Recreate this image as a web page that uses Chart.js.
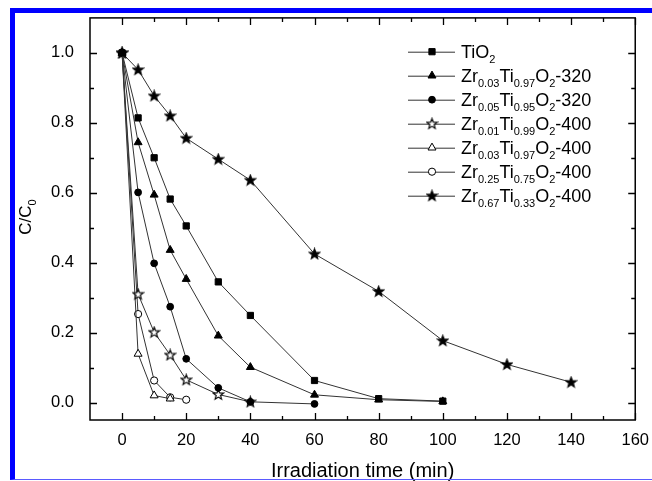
<!DOCTYPE html>
<html>
<head>
<meta charset="utf-8">
<script src="https://cdn.jsdelivr.net/npm/chart.js@4.4.1/dist/chart.umd.min.js"></script>
<style>
  html, body { margin: 0; padding: 0; background: #fff; }
  #wrap { position: relative; width: 652px; height: 481px; }
  #moldura {
    position: absolute; left: 10px; top: 8px; right: 0; bottom: 1px;
    border-top: 5px solid #0000ff; border-left: 5px solid #0000ff; border-bottom: 1px solid #5a5aff;
    pointer-events: none;
  }
</style>
</head>
<body>
<div id="wrap">
  <canvas id="grafico" width="652" height="481"></canvas>
  <div id="moldura"></div>
</div>
<script>
// tempos (min) e C/C0 de cada amostra
const tempoTiO2 = [0, 5, 10, 15, 20, 30, 40, 60, 80, 100];
const cTiO2 = [1.0, 0.814, 0.70, 0.582, 0.505, 0.345, 0.249, 0.063, 0.011, 0.004];

const tempoZr03_320 = [0, 5, 10, 15, 20, 30, 40, 60, 80, 100];
const cZr03_320 = [1.0, 0.744, 0.594, 0.436, 0.353, 0.191, 0.101, 0.022, 0.008, 0.003];

const tempoZr05_320 = [0, 5, 10, 15, 20, 30, 40, 60];
const cZr05_320 = [1.0, 0.601, 0.398, 0.274, 0.125, 0.042, 0.002, -0.004];

const tempoZr01_400 = [0, 5, 10, 15, 20, 30, 40];
const cZr01_400 = [1.0, 0.31, 0.201, 0.136, 0.065, 0.023, 0.002];

const tempoZr03_400 = [0, 5, 10, 15];
const cZr03_400 = [1.0, 0.139, 0.02, 0.011];

const tempoZr25_400 = [0, 5, 10, 15, 20];
const cZr25_400 = [1.0, 0.253, 0.063, 0.015, 0.008];

const tempoZr67_400 = [0, 5, 10, 15, 20, 30, 40, 60, 80, 100, 120, 140];
const cZr67_400 = [1.0, 0.952, 0.877, 0.82, 0.756, 0.696, 0.636, 0.425, 0.318, 0.177, 0.109, 0.058];

const rotulos = [
  "TiO_{2}",
  "Zr_{0.03}Ti_{0.97}O_{2}-320",
  "Zr_{0.05}Ti_{0.95}O_{2}-320",
  "Zr_{0.01}Ti_{0.99}O_{2}-400",
  "Zr_{0.03}Ti_{0.97}O_{2}-400",
  "Zr_{0.25}Ti_{0.75}O_{2}-400",
  "Zr_{0.67}Ti_{0.33}O_{2}-400"
];

const xTicks = [0, 20, 40, 60, 80, 100, 120, 140, 160];
const xMinor = [10, 30, 50, 70, 90, 110, 130, 150];
const yTicks = [0.0, 0.2, 0.4, 0.6, 0.8, 1.0];
const yMinor = [0.1, 0.3, 0.5, 0.7, 0.9];

const FONTE = '"Liberation Sans", Arial, sans-serif';

function criarEstrela(preenchida) {
  const c = document.createElement("canvas");
  c.width = 13;
  c.height = 13;
  const g = c.getContext("2d");
  g.beginPath();
  for (let i = 0; i < 10; i++) {
    const r = i % 2 === 0 ? 5.4 : 2.3;
    const ang = -Math.PI / 2 + i * Math.PI / 5;
    const px = 6.5 + Math.cos(ang) * r;
    const py = 6.8 + Math.sin(ang) * r;
    if (i === 0) g.moveTo(px, py); else g.lineTo(px, py);
  }
  g.closePath();
  g.fillStyle = preenchida ? "#000" : "#fff";
  g.fill();
  g.strokeStyle = "#000";
  g.lineWidth = 1.2;
  g.stroke();
  return c;
}

const estrelaCheia = criarEstrela(true);
const estrelaVazia = criarEstrela(false);

const series = [
  { t: tempoTiO2, c: cTiO2, estilo: "rect", raio: 4.4, fundo: "#000" },
  { t: tempoZr03_320, c: cZr03_320, estilo: "triangle", raio: 4.6, fundo: "#000" },
  { t: tempoZr05_320, c: cZr05_320, estilo: "circle", raio: 3.4, fundo: "#000" },
  { t: tempoZr01_400, c: cZr01_400, estilo: estrelaVazia, raio: 5, fundo: "#fff" },
  { t: tempoZr03_400, c: cZr03_400, estilo: "triangle", raio: 4.6, fundo: "#fff" },
  { t: tempoZr25_400, c: cZr25_400, estilo: "circle", raio: 3.6, fundo: "#fff" },
  { t: tempoZr67_400, c: cZr67_400, estilo: estrelaCheia, raio: 5, fundo: "#000" }
];

const datasets = series.map((s, i) => ({
  label: rotulos[i],
  data: s.t.map((t, k) => ({ x: t, y: s.c[k] })),
  borderColor: "#333",
  borderWidth: 1,
  tension: 0,
  fill: false,
  pointStyle: s.estilo,
  pointRadius: s.raio,
  pointBackgroundColor: s.fundo,
  pointBorderColor: "#000",
  pointBorderWidth: 1
}));

function partesTexto(str) {
  const partes = [];
  const re = /_\{([^}]*)\}/g;
  let ultimo = 0;
  let m;
  while ((m = re.exec(str))) {
    if (m.index > ultimo) partes.push({ t: str.slice(ultimo, m.index), sub: false });
    partes.push({ t: m[1], sub: true });
    ultimo = re.lastIndex;
  }
  if (ultimo < str.length) partes.push({ t: str.slice(ultimo), sub: false });
  return partes;
}

function larguraTexto(ctx, str, tam, tamSub) {
  let w = 0;
  partesTexto(str).forEach(p => {
    ctx.font = (p.sub ? tamSub : tam) + "px " + FONTE;
    w += ctx.measureText(p.t).width;
  });
  return w;
}

function desenharTexto(ctx, str, x, y, tam, tamSub, desce) {
  ctx.textAlign = "left";
  ctx.textBaseline = "alphabetic";
  partesTexto(str).forEach(p => {
    ctx.font = (p.sub ? tamSub : tam) + "px " + FONTE;
    ctx.fillText(p.t, x, p.sub ? y + desce : y);
    x += ctx.measureText(p.t).width;
  });
}

function desenharMarcador(ctx, s, x, y) {
  if (typeof s.estilo !== "string") {
    ctx.drawImage(s.estilo, x - s.estilo.width / 2, y - s.estilo.height / 2);
    return;
  }
  const r = s.raio;
  ctx.beginPath();
  if (s.estilo === "rect") {
    const h = r * Math.SQRT1_2;
    ctx.rect(x - h, y - h, 2 * h, 2 * h);
  } else if (s.estilo === "circle") {
    ctx.arc(x, y, r, 0, Math.PI * 2);
  } else {
    let ang = 0;
    for (let i = 0; i < 3; i++) {
      const px = x + Math.sin(ang) * r;
      const py = y - Math.cos(ang) * r;
      if (i === 0) ctx.moveTo(px, py); else ctx.lineTo(px, py);
      ang += Math.PI * 2 / 3;
    }
    ctx.closePath();
  }
  ctx.fillStyle = s.fundo;
  ctx.fill();
  ctx.strokeStyle = "#000";
  ctx.lineWidth = 1;
  ctx.stroke();
}

// moldura do grafico com marcas para dentro nos quatro lados
const molduraEixos = {
  id: "molduraEixos",
  afterDatasetsDraw(chart) {
    const { ctx, chartArea: a, scales } = chart;
    const x = scales.x;
    const y = scales.y;
    ctx.save();
    ctx.strokeStyle = "#000";
    ctx.lineWidth = 1.5;
    ctx.strokeRect(a.left, a.top, a.right - a.left, a.bottom - a.top);
    ctx.lineWidth = 1.3;
    ctx.beginPath();
    const marcaX = (v, len) => {
      const px = Math.round(x.getPixelForValue(v)) + 0.5;
      ctx.moveTo(px, a.bottom); ctx.lineTo(px, a.bottom - len);
      ctx.moveTo(px, a.top); ctx.lineTo(px, a.top + len);
    };
    const marcaY = (v, len) => {
      const py = Math.round(y.getPixelForValue(v)) + 0.5;
      ctx.moveTo(a.left, py); ctx.lineTo(a.left + len, py);
      ctx.moveTo(a.right, py); ctx.lineTo(a.right - len, py);
    };
    xTicks.forEach(v => marcaX(v, 7));
    xMinor.forEach(v => marcaX(v, 4));
    yTicks.forEach(v => marcaY(v, 7));
    yMinor.forEach(v => marcaY(v, 4));
    ctx.stroke();
    ctx.restore();
  }
};

const legendaQuadro = {
  id: "legendaQuadro",
  afterDraw(chart) {
    const ctx = chart.ctx;
    ctx.save();
    series.forEach((s, i) => {
      const yc = 51.7 + i * 24;
      ctx.strokeStyle = "#333";
      ctx.lineWidth = 1;
      ctx.beginPath();
      ctx.moveTo(408, yc + 0.5);
      ctx.lineTo(455, yc + 0.5);
      ctx.stroke();
      desenharMarcador(ctx, s, 432, yc);
      ctx.fillStyle = "#000";
      desenharTexto(ctx, rotulos[i], 461, yc + 6.5, 18, 11, 5);
    });
    ctx.restore();
  }
};

const tituloY = {
  id: "tituloY",
  afterDraw(chart) {
    const ctx = chart.ctx;
    const texto = "C/C_{0}";
    ctx.save();
    const w = larguraTexto(ctx, texto, 17, 11);
    ctx.translate(30.5, 217);
    ctx.rotate(-Math.PI / 2);
    ctx.fillStyle = "#000";
    desenharTexto(ctx, texto, -w / 2, 0, 17, 11, 5);
    ctx.restore();
  }
};

new Chart(document.getElementById("grafico"), {
  type: "line",
  data: { datasets: datasets },
  options: {
    responsive: false,
    animation: false,
    layout: { padding: { top: 17, right: 15, left: 0, bottom: 0 } },
    plugins: {
      legend: { display: false },
      tooltip: { enabled: false }
    },
    scales: {
      x: {
        type: "linear",
        min: -10,
        max: 160,
        afterBuildTicks: s => { s.ticks = xTicks.map(v => ({ value: v })); },
        afterFit: s => { s.height = 61; },
        grid: { display: false },
        border: { display: false },
        ticks: {
          color: "#000",
          padding: 3,
          autoSkip: false,
          maxRotation: 0,
          font: { family: FONTE, size: 16.5 }
        },
        title: {
          display: true,
          text: "Irradiation time (min)",
          color: "#000",
          font: { family: FONTE, size: 20 },
          padding: { top: 0, bottom: -2 }
        }
      },
      y: {
        type: "linear",
        min: -0.05,
        max: 1.1,
        afterBuildTicks: s => { s.ticks = yTicks.map(v => ({ value: v })); },
        afterFit: s => { s.width = 90; },
        grid: { display: false },
        border: { display: false },
        ticks: {
          color: "#000",
          padding: 8,
          font: { family: FONTE, size: 16.5 },
          callback: v => Number(v).toFixed(1)
        }
      }
    }
  },
  plugins: [molduraEixos, legendaQuadro, tituloY]
});
</script>
</body>
</html>
